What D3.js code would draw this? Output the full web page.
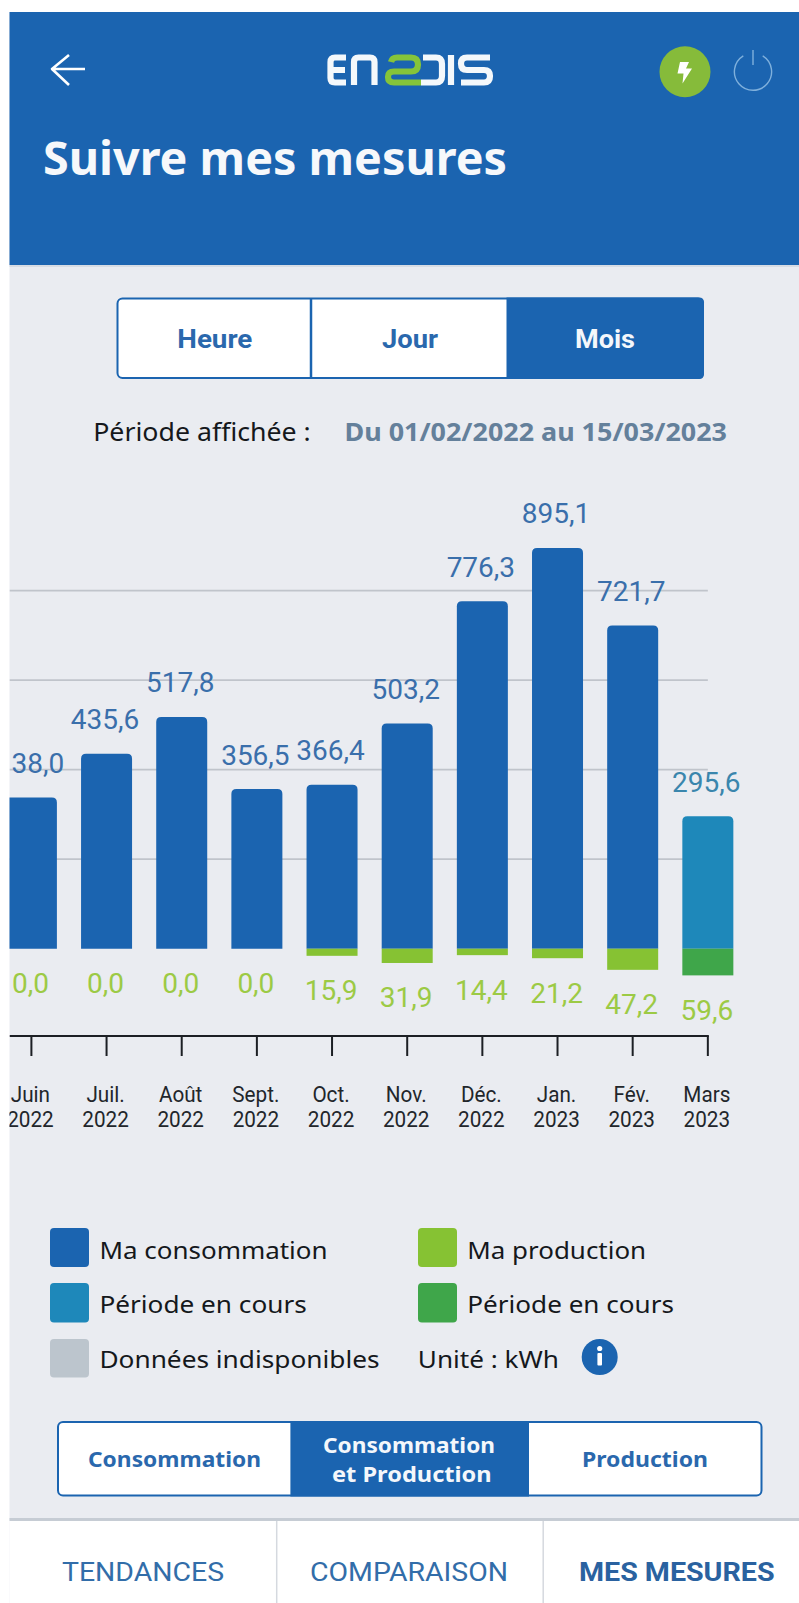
<!DOCTYPE html>
<html lang="fr">
<head>
<meta charset="utf-8">
<title>Suivre mes mesures</title>
<script src="https://cdn.jsdelivr.net/npm/d3@7"></script>
<style>
  html, body { margin: 0; padding: 0; background: #fff; }
  svg { display: block; }
</style>
</head>
<body>
<svg id="screen" width="799" height="1603"></svg>
<script>
// Monthly readings, in kWh
const months = ["Juin", "Juil.", "Août", "Sept.", "Oct.", "Nov.", "Déc.", "Jan.", "Fév.", "Mars"];
const years = ["2022", "2022", "2022", "2022", "2022", "2022", "2022", "2023", "2023", "2023"];
const consumption = [338.0, 435.6, 517.8, 356.5, 366.4, 503.2, 776.3, 895.1, 721.7, 295.6];
const production = [0.0, 0.0, 0.0, 0.0, 15.9, 31.9, 14.4, 21.2, 47.2, 59.6];
const gridValues = [200, 400, 600, 800];
const currentMonth = "Mars";

const BLUE = "#1b64b0", TEAL = "#1e88ba", LIME = "#86c233", GREEN = "#3fa64a", GREY = "#bcc5cd";
const LABEL_BLUE = "#3a6fab", LABEL_TEAL = "#3a86ad", LABEL_LIME = "#9cca45";
const PAGE = "#eaecf1", INK = "#15181c";
const UI = "'Noto Sans', sans-serif", NUM = "Roboto, sans-serif";

const svg = d3.select("#screen");
const frac = v => d3.format(".1f")(v).replace(".", ",");

// Text fitted to a given width
function label(g, str, x, y, size, opts = {}) {
  const t = g.append("text").attr("x", x).attr("y", y).text(str)
    .attr("font-size", size)
    .attr("font-family", opts.family || UI)
    .attr("font-weight", opts.weight || 400)
    .attr("fill", opts.fill || INK)
    .attr("text-anchor", opts.anchor || "start");
  if (opts.width) t.attr("textLength", opts.width).attr("lengthAdjust", "spacingAndGlyphs");
  return t;
}

// Page background and header band
svg.append("rect").attr("x", 9.5).attr("y", 12).attr("width", 790).attr("height", 1591).attr("fill", PAGE);
svg.append("rect").attr("x", 9.5).attr("y", 12).attr("width", 790).attr("height", 253).attr("fill", BLUE);
svg.append("rect").attr("x", 9.5).attr("y", 265).attr("width", 790).attr("height", 2).attr("fill", "#d7dce4");

const header = svg.append("g");
header.append("path").attr("d", "M85,69 H52 M69,55 L52,69 L69,85")
  .attr("fill", "none").attr("stroke", "#fff").attr("stroke-width", 2.6).attr("stroke-linejoin", "round");

// Logo strokes
const logo = header.append("g").attr("fill", "none").attr("stroke-width", 6.2);
logo.append("path").attr("stroke", "#f4f8fb").attr("d",
  "M346,57.5 H335 Q330.5,57.5 330.5,62 V78 Q330.5,82.5 335,82.5 H346 M331,70 H345 " +
  "M354,85 V62 Q354,57.5 358.5,57.5 H370 Q374.5,57.5 374.5,62 V85 " +
  "M421,82.5 H436 Q442,82.5 442,76 V64 Q442,57.5 436,57.5 H423 " +
  "M451,85 V55 " +
  "M490,57.5 H467 Q461,57.5 461,63.5 Q461,70 467,70 H484 Q490,70 490,76 Q490,82.5 484,82.5 H461");
logo.append("path").attr("stroke", "#85c43a").attr("d",
  "M391,62 Q392,57.5 397,57.5 H411 Q418,57.5 418,64.5 Q418,71.5 411,71.5 H394 Q388,71.5 388,77 Q388,82.5 394,82.5 H421");

header.append("circle").attr("cx", 685).attr("cy", 71.7).attr("r", 25.5).attr("fill", "#86bb3a");
header.append("path").attr("fill", "#fff").attr("d", "M680,62 H689 L686,68.5 H692 L682.5,83.5 L683.5,73.5 L677.5,73.5 Z");
header.append("path").attr("fill", "none").attr("stroke", "#7fb0dc").attr("stroke-width", 1.4)
  .attr("transform", "translate(753,71.7)")
  .attr("d", d3.arc()({ innerRadius: 18.6, outerRadius: 18.6, startAngle: 0.55, endAngle: 2 * Math.PI - 0.55 }) + " M0,-21.7 V-6.7");

label(header, "Suivre mes mesures", 43, 175, 47, { weight: 700, fill: "#f6f8fb", width: 464 });

// Rectangle whose corners are rounded on the chosen sides only
const sideRounded = (x0, x1, y0, y1, rl, rr) =>
  `M${x0 + rl},${y0} H${x1 - rr} Q${x1},${y0} ${x1},${y0 + rr} V${y1 - rr} Q${x1},${y1} ${x1 - rr},${y1} ` +
  `H${x0 + rl} Q${x0},${y1} ${x0},${y1 - rl} V${y0 + rl} Q${x0},${y0} ${x0 + rl},${y0} Z`;

// Selector made of adjoining segments
function segmented(x0, x1, y0, y1, stops, activeIndex, lines) {
  const g = svg.append("g");
  g.append("rect").attr("x", x0).attr("y", y0).attr("width", x1 - x0).attr("height", y1 - y0)
    .attr("rx", 5).attr("fill", "#fff").attr("stroke", BLUE).attr("stroke-width", 2);
  const a = stops[activeIndex], b = stops[activeIndex + 1];
  g.append("path").attr("d", sideRounded(a, b === x1 ? x1 + 1 : b, y0 - 1, y1 + 1, 0, b === x1 ? 5 : 0)).attr("fill", BLUE);
  lines.forEach(d => label(g, d.text, d.x, d.y, d.size, { family: d.family, weight: 700, fill: d.fill, width: d.width }));
  return g;
}

const segA = segmented(117.5, 703, 298.5, 378, [117.5, 311, 506.5, 703], 2, [
  { text: "Heure", x: 177.3, y: 347.5, size: 26, family: NUM, fill: "#2a68ad", width: 75 },
  { text: "Jour", x: 382, y: 347.5, size: 26, family: NUM, fill: "#2a68ad", width: 56 },
  { text: "Mois", x: 575, y: 347.5, size: 26, family: NUM, fill: "#f4f7fb", width: 60 }
]);
segA.append("line").attr("x1", 311).attr("x2", 311).attr("y1", 298.5).attr("y2", 378).attr("stroke", BLUE).attr("stroke-width", 2.5);

label(svg, "Période affichée :", 93.2, 440.7, 26, { width: 217.6 });
label(svg, "Du 01/02/2022 au 15/03/2023", 344.5, 440.7, 25, { weight: 700, fill: "#64809b", width: 382.5 });

// Chart scales
const x = d3.scaleBand().domain(months).range([-6.18, 745.42]).paddingInner(0.3214).paddingOuter(0.1607);
const y = d3.scaleLinear().domain([-100, 1000]).range([993.47, 501]);
const mid = m => x(m) + x.bandwidth() / 2;

const defs = svg.append("defs");
defs.append("clipPath").attr("id", "plot-clip")
  .append("rect").attr("x", 9.5).attr("y", 480).attr("width", 790).attr("height", 700);
defs.append("clipPath").attr("id", "value-clip")
  .append("rect").attr("x", 11.4).attr("y", 480).attr("width", 790).attr("height", 700);
const plot = svg.append("g").attr("clip-path", "url(#plot-clip)");

plot.append("g").selectAll("line").data(gridValues).join("line")
  .attr("x1", 9.5).attr("x2", mid(currentMonth))
  .attr("y1", d => y(d)).attr("y2", d => y(d))
  .attr("stroke", "#c0c4cb").attr("stroke-width", 1.8);

// Bar with rounded top corners, standing on the zero line
const topRounded = (x0, w, top, bottom, r) =>
  `M${x0},${bottom} V${top + r} Q${x0},${top} ${x0 + r},${top} H${x0 + w - r} Q${x0 + w},${top} ${x0 + w},${top + r} V${bottom} Z`;

plot.append("g").selectAll("path").data(months).join("path")
  .attr("d", (m, i) => topRounded(x(m), x.bandwidth(), y(consumption[i]), y(0), 5))
  .attr("fill", m => m === currentMonth ? TEAL : BLUE);

plot.append("g").selectAll("rect").data(months).join("rect")
  .attr("x", m => x(m)).attr("width", x.bandwidth())
  .attr("y", y(0))
  .attr("height", (m, i) => y(-production[i]) - y(0))
  .attr("fill", m => m === currentMonth ? GREEN : LIME);

plot.append("g").attr("clip-path", "url(#value-clip)").selectAll("text").data(months).join("text")
  .attr("x", m => mid(m) - 1.5)
  .attr("y", (m, i) => y(consumption[i]) - 24.5)
  .attr("text-anchor", "middle").attr("font-family", NUM).attr("font-size", 28)
  .attr("fill", m => m === currentMonth ? LABEL_TEAL : LABEL_BLUE)
  .text((m, i) => frac(consumption[i]));

plot.append("g").selectAll("text").data(months).join("text")
  .attr("x", m => mid(m) - 1)
  .attr("y", (m, i) => y(-production[i]) + 44.5)
  .attr("text-anchor", "middle").attr("font-family", NUM).attr("font-size", 28)
  .attr("fill", LABEL_LIME)
  .text((m, i) => frac(production[i]));

// Month axis
const axis = plot.append("g").attr("transform", "translate(0,1036)")
  .call(d3.axisBottom(x).tickSize(20).tickFormat(""));
axis.select(".domain").remove();
axis.selectAll(".tick line").attr("stroke", "#1c1f24").attr("stroke-width", 2);
axis.append("line").attr("x1", 9.5).attr("x2", mid(currentMonth) + 1)
  .attr("stroke", "#1c1f24").attr("stroke-width", 2);

// Slightly condensed month and year labels
const condense = function () {
  this.setAttribute("textLength", this.getComputedTextLength() * 0.94);
  this.setAttribute("lengthAdjust", "spacingAndGlyphs");
};
const tickText = plot.append("g").attr("font-family", NUM).attr("fill", "#22262b").attr("text-anchor", "middle");
tickText.selectAll("text.month").data(months).join("text").attr("class", "month")
  .attr("x", m => mid(m) - 1).attr("y", 1101.5).attr("font-size", 22).text(m => m).each(condense);
tickText.selectAll("text.year").data(months).join("text").attr("class", "year")
  .attr("x", m => mid(m) - 1).attr("y", 1126.5).attr("font-size", 22).text((m, i) => years[i]).each(condense);

// Legend
const legendItems = [
  { name: "Ma consommation", color: BLUE, x: 50, y: 1228, h: 39, tx: 99.4, ty: 1259, w: 228.2 },
  { name: "Période en cours", color: TEAL, x: 50, y: 1283, h: 39.5, tx: 99.4, ty: 1313.3, w: 207.4 },
  { name: "Données indisponibles", color: GREY, x: 50, y: 1339, h: 38.5, tx: 99.4, ty: 1368.3, w: 280.2 },
  { name: "Ma production", color: LIME, x: 418, y: 1228, h: 39, tx: 467.3, ty: 1259, w: 178.8 },
  { name: "Période en cours", color: GREEN, x: 418, y: 1283, h: 39.5, tx: 467.3, ty: 1313.3, w: 206.7 }
];
const legend = svg.append("g");
legend.selectAll("rect").data(legendItems).join("rect")
  .attr("x", d => d.x).attr("y", d => d.y).attr("width", 39).attr("height", d => d.h)
  .attr("rx", 4).attr("fill", d => d.color);
legendItems.forEach(d => label(legend, d.name, d.tx, d.ty, 24, { width: d.w }));
label(legend, "Unité : kWh", 417.8, 1368.3, 24, { width: 141.2 });
legend.append("circle").attr("cx", 599.7).attr("cy", 1357).attr("r", 18).attr("fill", BLUE);
legend.append("circle").attr("cx", 599.7).attr("cy", 1348.5).attr("r", 2.6).attr("fill", "#fff");
legend.append("rect").attr("x", 597.4).attr("y", 1353).attr("width", 4.6).attr("height", 12.5).attr("rx", 1).attr("fill", "#fff");

segmented(58, 761.5, 1422, 1495.5, [58, 290.4, 529, 761.5], 1, [
  { text: "Consommation", x: 88, y: 1466.7, size: 22, fill: "#2a68ad", width: 173 },
  { text: "Consommation", x: 323, y: 1452.7, size: 22, fill: "#f4f7fb", width: 172 },
  { text: "et Production", x: 332, y: 1482.3, size: 22, fill: "#f4f7fb", width: 159.7 },
  { text: "Production", x: 582, y: 1466.7, size: 22, fill: "#2a68ad", width: 126 }
]);

// Bottom tab bar
const tabs = svg.append("g");
tabs.append("rect").attr("x", 9.5).attr("y", 1520).attr("width", 790).attr("height", 83).attr("fill", "#fff");
tabs.append("rect").attr("x", 9.5).attr("y", 1518).attr("width", 790).attr("height", 3).attr("fill", "#c6ccd4");
[276.7, 543.2].forEach(d => tabs.append("line").attr("x1", d).attr("x2", d).attr("y1", 1521).attr("y2", 1603)
  .attr("stroke", "#d5d9df").attr("stroke-width", 1.5));
label(tabs, "TENDANCES", 62, 1581, 26, { family: NUM, fill: "#326da9", width: 162 });
label(tabs, "COMPARAISON", 310, 1581, 26, { family: NUM, fill: "#326da9", width: 198 });
label(tabs, "MES MESURES", 579, 1581, 26, { family: NUM, weight: 700, fill: "#2a62a0", width: 195.5 });
</script>
</body>
</html>
